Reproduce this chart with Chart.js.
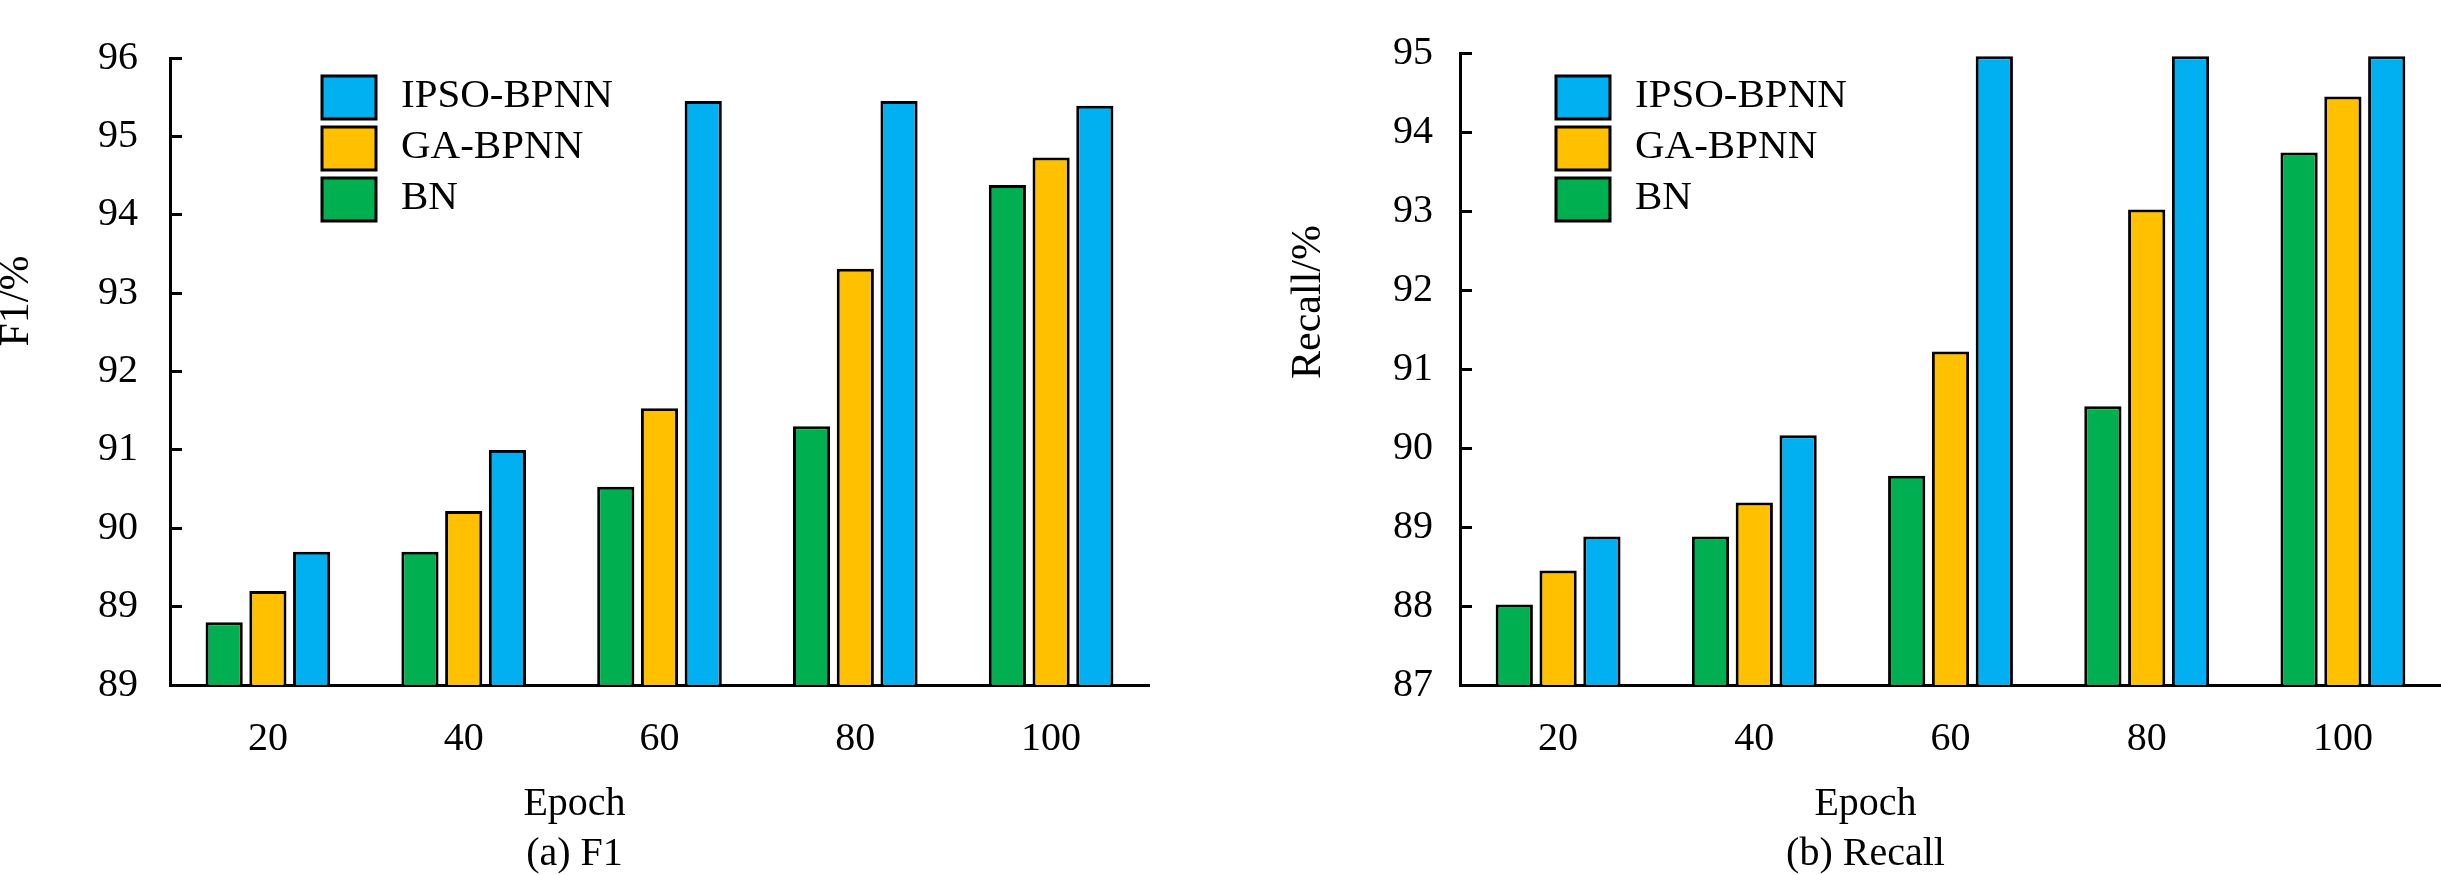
<!DOCTYPE html>
<html>
<head>
<meta charset="utf-8">
<script src="https://cdn.jsdelivr.net/npm/chart.js@4.4.1/dist/chart.umd.min.js"></script>
<style>
  html, body { margin: 0; padding: 0; background: #fff; }
  body { width: 2441px; height: 875px; position: relative; overflow: hidden; }
  .panel { position: absolute; top: 0; }
</style>
</head>
<body>
<div class="panel" style="left:0px"><canvas id="f1Chart" width="1165" height="875"></canvas></div>
<div class="panel" style="left:1290px"><canvas id="recallChart" width="1151" height="875"></canvas></div>
<script>
// data
const epochs = ['20', '40', '60', '80', '100'];
const seriesNames = ['BN', 'GA-BPNN', 'IPSO-BPNN'];
const seriesColors = ['#00B050', '#FFC000', '#00B0F0'];

const f1BN   = [88.80, 89.70, 90.53, 91.30, 94.38];
const f1GA   = [89.20, 90.22, 91.53, 93.31, 94.73];
const f1IPSO = [89.70, 91.00, 95.45, 95.45, 95.39];

const recallBN   = [88.02, 88.88, 89.65, 90.53, 93.74];
const recallGA   = [88.45, 89.31, 91.22, 93.02, 94.45];
const recallIPSO = [88.88, 90.16, 94.96, 94.96, 94.96];

// the bottom label of the F1 axis really reads 89 in the original
const f1TickLabels = ['89', '89', '90', '91', '92', '93', '94', '95', '96'];
const recallTickLabels = ['87', '88', '89', '90', '91', '92', '93', '94', '95'];

Chart.defaults.font.family = '"Liberation Serif", "Times New Roman", serif';
Chart.defaults.color = '#000';

// y title + legend drawn inside the plot, legend top entry = last dataset
const panelDecor = {
  id: 'panelDecor',
  afterDraw(chart, args, opts) {
    const ctx = chart.ctx;
    const area = chart.chartArea;

    ctx.save();
    ctx.font = '42px "Liberation Serif"';
    ctx.fillStyle = '#000';
    ctx.textAlign = 'center';
    ctx.textBaseline = 'middle';
    ctx.translate(opts.yTitleX, opts.yTitleY);
    ctx.rotate(-Math.PI / 2);
    ctx.fillText(opts.yTitle, 0, 0);
    ctx.restore();

    ctx.save();
    ctx.font = '41px "Liberation Serif"';
    ctx.textBaseline = 'middle';
    ctx.textAlign = 'left';
    const items = chart.data.datasets.slice().reverse();
    items.forEach((ds, i) => {
      const x = area.left + opts.legendX;
      const y = opts.legendY + i * 51;
      ctx.fillStyle = ds.backgroundColor;
      ctx.fillRect(x, y, 54, 43);
      ctx.lineWidth = 3;
      ctx.strokeStyle = '#000';
      ctx.strokeRect(x, y, 54, 43);
      ctx.fillStyle = '#000';
      ctx.fillText(ds.label, x + 79, y + 20);
    });
    ctx.restore();
  }
};

function makePanel(canvasId, series, yMin, yMax, tickLabels, caption, decor, tickPad, padRight) {
  const ctx = document.getElementById(canvasId).getContext('2d');
  return new Chart(ctx, {
    type: 'bar',
    data: {
      labels: epochs,
      datasets: series.map((vals, i) => ({
        label: seriesNames[i],
        data: vals,
        backgroundColor: seriesColors[i],
        borderColor: '#000',
        borderWidth: 3,
        categoryPercentage: 0.67,
        barPercentage: 0.85
      }))
    },
    options: {
      responsive: false,
      animation: false,
      layout: { padding: { top: 15, left: 0, right: padRight, bottom: 0 } },
      plugins: {
        legend: { display: false },
        tooltip: { enabled: false },
        title: {
          display: true,
          position: 'bottom',
          text: ['Epoch', caption],
          color: '#000',
          font: { size: 40, weight: 'normal', lineHeight: 1.25 },
          padding: { top: 0, bottom: -4 }
        },
        panelDecor: decor
      },
      scales: {
        x: {
          grid: { display: false, drawTicks: false },
          border: { display: true, color: '#000', width: 3 },
          ticks: { font: { size: 40 }, padding: 30, color: '#000' },
          afterFit: (scale) => { scale.height = 94; }
        },
        y: {
          min: yMin,
          max: yMax,
          grid: { drawOnChartArea: false, drawTicks: true, tickLength: -12, lineWidth: 3, color: '#000' },
          border: { display: true, color: '#000', width: 3 },
          ticks: {
            stepSize: 1,
            font: { size: 40, lineHeight: 0.7 },
            padding: tickPad,
            color: '#000',
            callback: (value, index) => tickLabels[index]
          },
          afterFit: (scale) => { scale.width = 170; }
        }
      }
    },
    plugins: [panelDecor]
  });
}

document.addEventListener('DOMContentLoaded', () => {
  makePanel('f1Chart', [f1BN, f1GA, f1IPSO], 88, 96, f1TickLabels, '(a) F1',
    { yTitle: 'F1/%', yTitleX: 17, yTitleY: 301, legendX: 152, legendY: 76 }, 44, 16);
  makePanel('recallChart', [recallBN, recallGA, recallIPSO], 87, 95, recallTickLabels, '(b) Recall',
    { yTitle: 'Recall/%', yTitleX: 19, yTitleY: 302, legendX: 96, legendY: 76 }, 39, 0);
});
</script>
</body>
</html>
